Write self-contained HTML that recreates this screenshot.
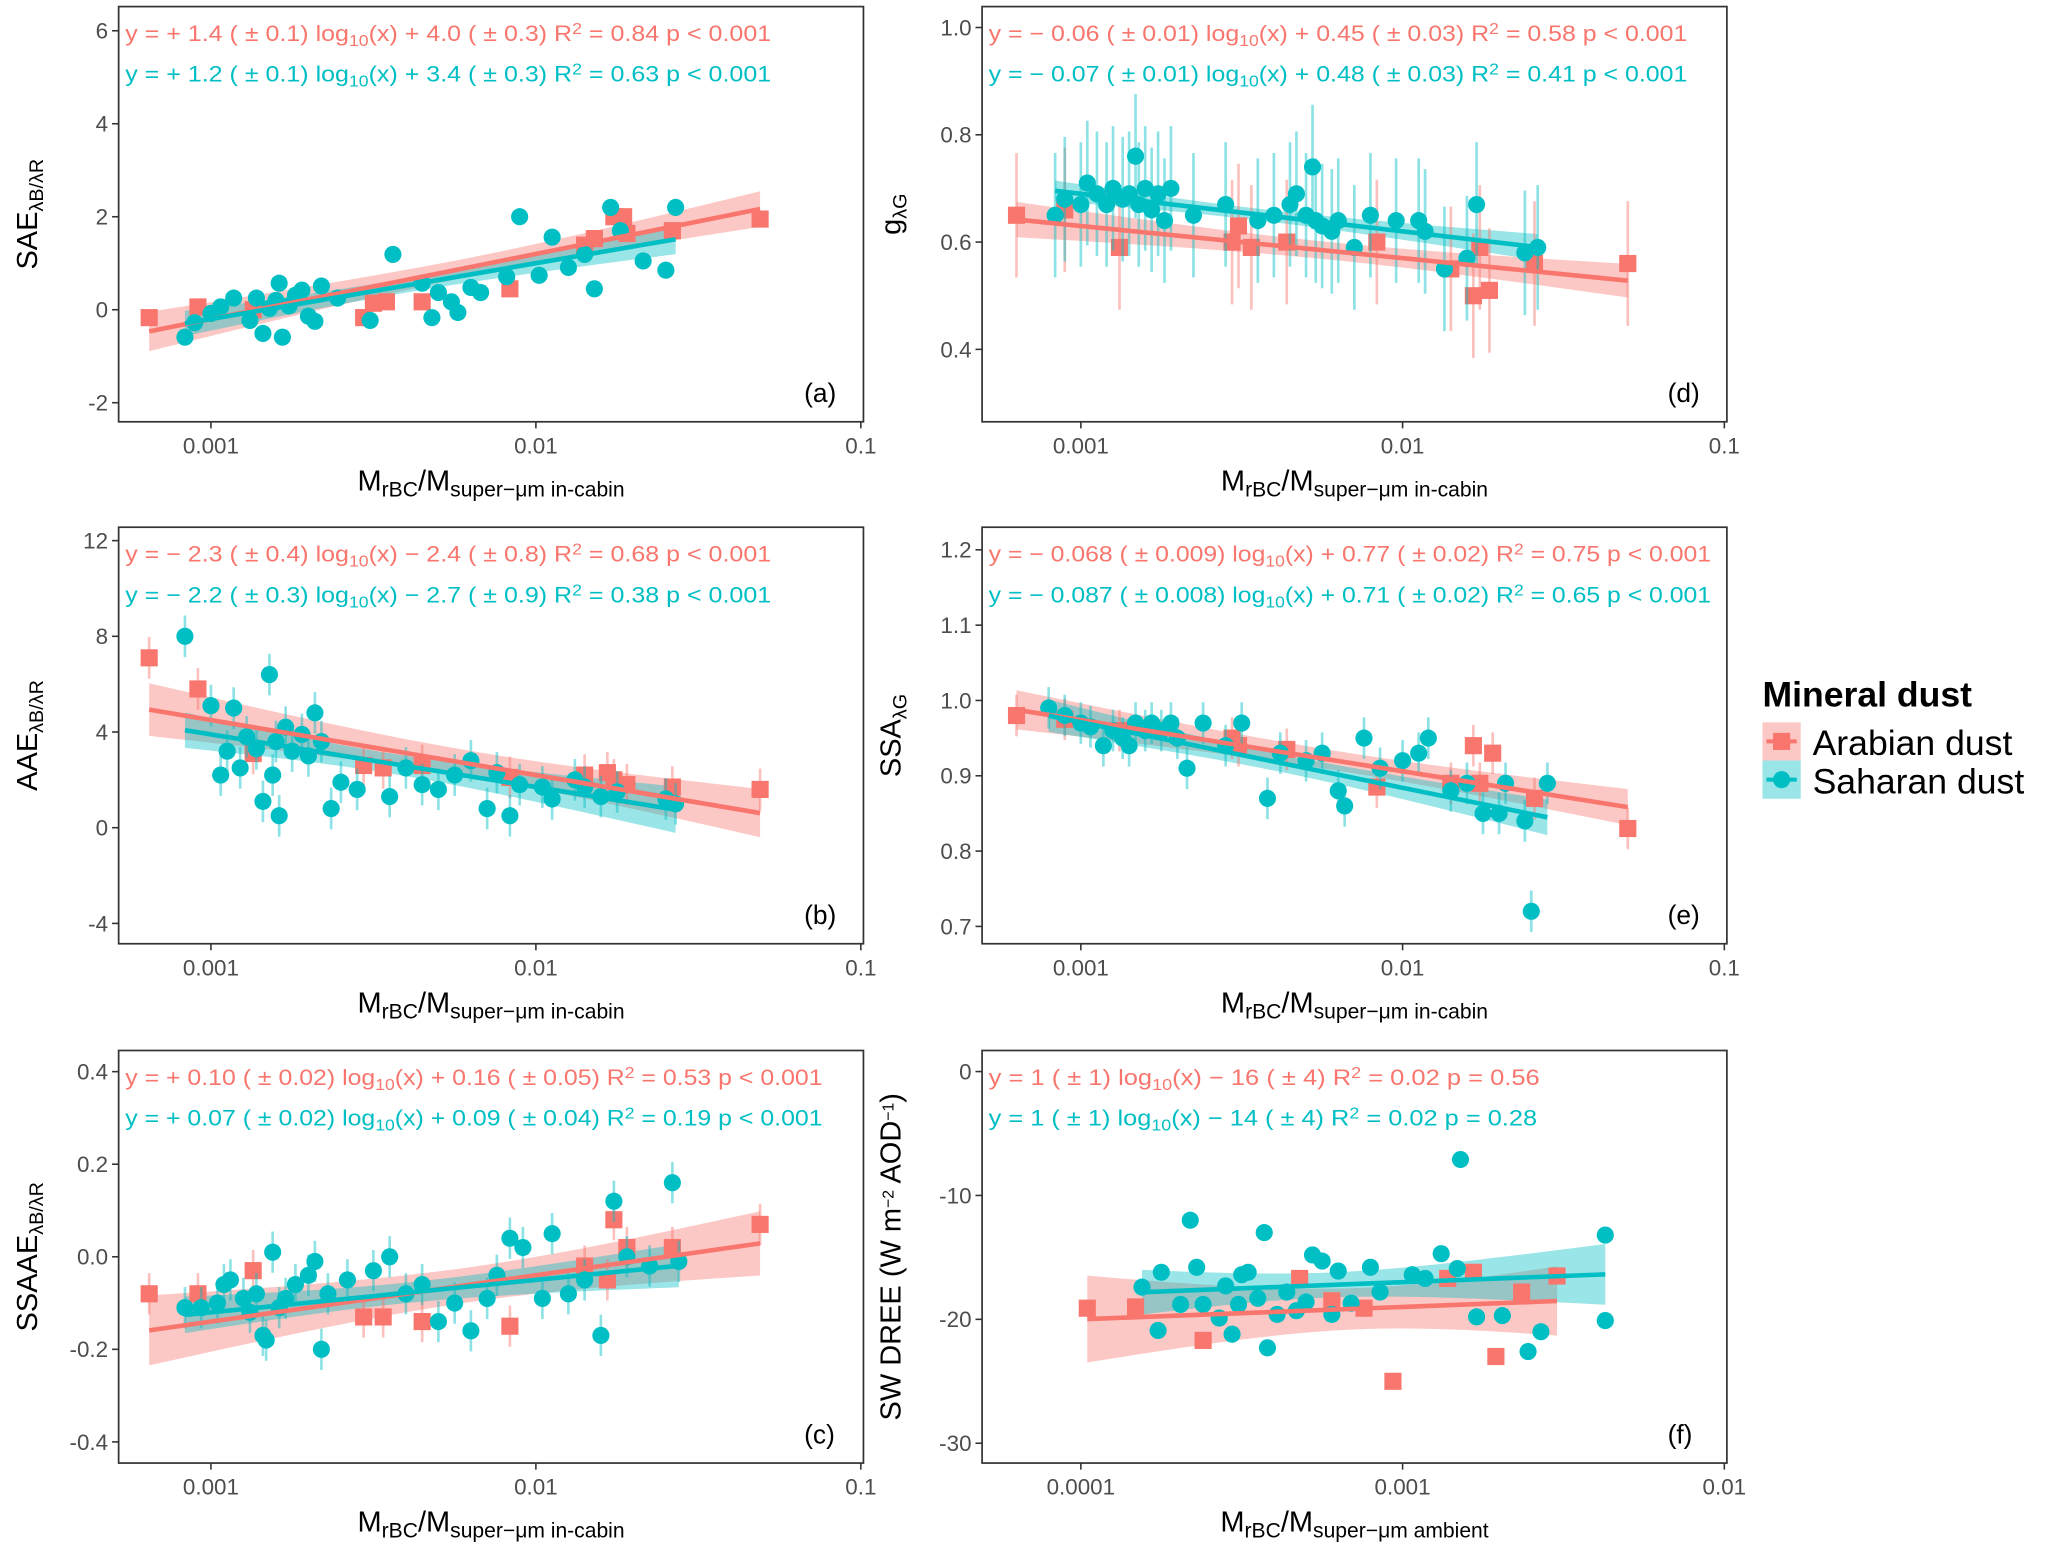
<!DOCTYPE html>
<html><head><meta charset="utf-8"><style>
html,body{margin:0;padding:0;background:#fff}
svg{display:block}
text{font-family:"Liberation Sans",DejaVu Sans,sans-serif}
</style></head><body>
<svg id="chart" width="2067" height="1554" viewBox="0 0 1568 1179" preserveAspectRatio="none" xmlns="http://www.w3.org/2000/svg">
<rect width="1568" height="1179" fill="#fff"/>
<g id="legend">
<text x="1337" y="536" font-size="27" font-weight="bold" fill="#000">Mineral dust</text>
<g>
<rect x="1337" y="548" width="29" height="29" fill="#F8766D" fill-opacity="0.4"/>
<line x1="1340" y1="562.5" x2="1363" y2="562.5" stroke="#F8766D" stroke-width="3"/>
<rect x="1345" y="556" width="13" height="13" fill="#F8766D"/>
<text x="1375" y="573" font-size="27" fill="#000">Arabian dust</text></g>
<g>
<rect x="1337" y="577" width="29" height="29" fill="#00BFC4" fill-opacity="0.4"/>
<line x1="1340" y1="591.5" x2="1363" y2="591.5" stroke="#00BFC4" stroke-width="3"/>
<circle cx="1351.5" cy="591.5" r="6.5" fill="#00BFC4"/>
<text x="1375" y="602" font-size="27" fill="#000">Saharan dust</text></g>
</g>
</svg>
<script>
// ---- data (x stored as log10 of M_rBC/M_super-um ratio) ----
const aAraX=[-3.19,-3.04,-2.87,-2.53,-2.50,-2.46,-2.35,-2.08,-1.85,-1.82,-1.76,-1.73,-1.72,-1.58,-1.31];
const aAraY=[-0.17,0.06,0,-0.17,0.14,0.17,0.17,0.45,1.39,1.53,2.0,2.0,1.64,1.7,1.95];
const aSahX=[-3.08,-3.05,-3.00,-2.97,-2.93,-2.88,-2.86,-2.84,-2.82,-2.80,-2.79,-2.78,-2.76,-2.74,-2.72,-2.70,-2.68,-2.66,-2.61,-2.51,-2.44,-2.35,-2.32,-2.30,-2.26,-2.24,-2.20,-2.17,-2.09,-2.05,-1.99,-1.95,-1.90,-1.85,-1.82,-1.77,-1.74,-1.67,-1.60,-1.57];
const aSahY=[-0.59,-0.28,-0.08,0.06,0.25,-0.23,0.25,-0.51,0.03,0.2,0.57,-0.59,0.08,0.31,0.42,-0.14,-0.25,0.51,0.25,-0.23,1.19,0.57,-0.17,0.37,0.17,-0.06,0.48,0.37,0.71,2.0,0.74,1.56,0.91,1.19,0.45,2.2,1.7,1.05,0.85,2.2];

const dAraX=[-3.2,-3.05,-2.88,-2.53,-2.51,-2.47,-2.36,-2.08,-1.85,-1.78,-1.73,-1.76,-1.59,-1.30];
const dAraY=[0.65,0.66,0.59,0.6,0.63,0.59,0.6,0.6,0.55,0.5,0.51,0.59,0.56,0.56];
const dSahX=[-3.08,-3.05,-3.0,-2.98,-2.95,-2.92,-2.9,-2.87,-2.85,-2.83,-2.82,-2.8,-2.78,-2.76,-2.74,-2.72,-2.65,-2.55,-2.45,-2.4,-2.35,-2.33,-2.3,-2.28,-2.27,-2.25,-2.22,-2.2,-2.15,-2.1,-2.02,-1.95,-1.93,-1.87,-1.8,-1.77,-1.62,-1.58];
const dSahY=[0.65,0.68,0.67,0.71,0.69,0.67,0.7,0.68,0.69,0.76,0.67,0.7,0.66,0.69,0.64,0.7,0.65,0.67,0.64,0.65,0.67,0.69,0.65,0.74,0.64,0.63,0.62,0.64,0.59,0.65,0.64,0.64,0.62,0.55,0.57,0.67,0.58,0.59];

const bAraX=[-3.19,-3.04,-2.87,-2.53,-2.47,-2.35,-2.08,-1.85,-1.78,-1.76,-1.72,-1.58,-1.31];
const bAraY=[7.1,5.8,3.1,2.6,2.5,2.6,2.1,2.2,2.3,2.0,1.8,1.7,1.6];
const bSahX=[-3.08,-3.0,-2.97,-2.95,-2.93,-2.91,-2.89,-2.86,-2.84,-2.82,-2.81,-2.8,-2.79,-2.77,-2.75,-2.72,-2.7,-2.68,-2.66,-2.63,-2.6,-2.55,-2.45,-2.4,-2.35,-2.3,-2.25,-2.2,-2.15,-2.12,-2.08,-2.05,-1.98,-1.95,-1.88,-1.85,-1.8,-1.75,-1.6,-1.57];
const bSahY=[8.0,5.1,2.2,3.2,5.0,2.5,3.8,3.3,1.1,6.4,2.2,3.6,0.5,4.2,3.2,3.9,3.0,4.8,3.6,0.8,1.9,1.6,1.3,2.5,1.8,1.6,2.2,2.8,0.8,2.3,0.5,1.8,1.7,1.2,2.0,1.7,1.3,1.5,1.2,1.0];

const eAraX=[-3.2,-3.05,-2.88,-2.53,-2.51,-2.36,-2.08,-1.85,-1.78,-1.76,-1.72,-1.59,-1.30];
const eAraY=[0.98,0.975,0.96,0.95,0.94,0.935,0.885,0.89,0.94,0.89,0.93,0.87,0.83];
const eSahX=[-3.1,-3.05,-3.0,-2.97,-2.93,-2.9,-2.87,-2.85,-2.83,-2.8,-2.78,-2.75,-2.72,-2.7,-2.67,-2.62,-2.55,-2.5,-2.42,-2.38,-2.3,-2.25,-2.2,-2.18,-2.12,-2.07,-2.0,-1.95,-1.92,-1.85,-1.8,-1.75,-1.7,-1.68,-1.62,-1.6,-1.55];
const eSahY=[0.99,0.98,0.97,0.965,0.94,0.96,0.95,0.94,0.97,0.96,0.97,0.96,0.97,0.95,0.91,0.97,0.94,0.97,0.87,0.93,0.92,0.93,0.88,0.86,0.95,0.91,0.92,0.93,0.95,0.88,0.89,0.85,0.85,0.89,0.84,0.72,0.89];

const cAraX=[-3.19,-3.04,-2.87,-2.53,-2.47,-2.35,-2.08,-1.85,-1.78,-1.76,-1.72,-1.58,-1.31];
const cAraY=[-0.08,-0.08,-0.03,-0.13,-0.13,-0.14,-0.15,-0.02,-0.05,0.08,0.02,0.02,0.07];
const cSahX=[-3.08,-3.03,-2.98,-2.96,-2.94,-2.9,-2.88,-2.86,-2.84,-2.83,-2.81,-2.79,-2.77,-2.74,-2.7,-2.68,-2.66,-2.64,-2.58,-2.5,-2.45,-2.4,-2.35,-2.3,-2.25,-2.2,-2.15,-2.12,-2.08,-2.04,-1.98,-1.95,-1.9,-1.85,-1.8,-1.76,-1.72,-1.65,-1.58,-1.56];
const cSahY=[-0.11,-0.11,-0.1,-0.06,-0.05,-0.09,-0.12,-0.08,-0.17,-0.18,0.01,-0.11,-0.09,-0.06,-0.04,-0.01,-0.2,-0.08,-0.05,-0.03,0.0,-0.08,-0.06,-0.14,-0.1,-0.16,-0.09,-0.04,0.04,0.02,-0.09,0.05,-0.08,-0.05,-0.17,0.12,0.0,-0.02,0.16,-0.01];

const fAraX=[-3.98,-3.83,-3.62,-3.32,-3.03,-3.22,-3.12,-2.86,-2.78,-2.71,-2.63,-2.52];
const fAraY=[-19.1,-19.0,-21.7,-16.7,-25.0,-18.5,-19.1,-16.7,-16.2,-23.0,-17.8,-16.5];
const fSahX=[-3.81,-3.76,-3.75,-3.69,-3.66,-3.64,-3.62,-3.57,-3.55,-3.53,-3.51,-3.50,-3.48,-3.45,-3.43,-3.42,-3.39,-3.36,-3.33,-3.30,-3.28,-3.25,-3.22,-3.20,-3.16,-3.10,-3.07,-2.97,-2.93,-2.88,-2.83,-2.82,-2.77,-2.69,-2.61,-2.57,-2.37,-2.37];
const fSahY=[-17.4,-20.9,-16.2,-18.8,-12.0,-15.8,-18.8,-19.9,-17.3,-21.2,-18.8,-16.4,-16.2,-18.3,-13.0,-22.3,-19.6,-17.8,-19.3,-18.6,-14.8,-15.3,-19.6,-16.1,-18.7,-15.8,-17.8,-16.4,-16.7,-14.7,-15.9,-7.1,-19.8,-19.7,-22.6,-21.0,-13.2,-20.1];

// fit coefficients [slope, intercept] from printed equations
const fitA=[[1.4,4.0],[1.2,3.4]];
const fitD=[[-0.06,0.45],[-0.07,0.48]];
const fitB=[[-2.3,-2.4],[-2.2,-2.7]];
const fitE=[[-0.068,0.77],[-0.087,0.71]];
const fitC=[[0.10,0.16],[0.07,0.09]];
const fitF=[[1,-16],[1,-14]];

const ticksA=[-2,0,2,4,6], ticksD=[0.4,0.6,0.8,1.0], ticksB=[-4,0,4,8,12];
const ticksE=[0.7,0.8,0.9,1.0,1.1,1.2], ticksC=[-0.4,-0.2,0.0,0.2,0.4], ticksF=[-30,-20,-10,0];
const xTicksCabin=[-3,-2,-1], xTickLabCabin=["0.001","0.01","0.1"];
const xTicksAmb=[-4,-3,-2], xTickLabAmb=["0.0001","0.001","0.01"];

const NS="http://www.w3.org/2000/svg";
const svg=document.getElementById('chart');
const RED="#F8766D", CYAN="#00BFC4";
function mk(tag,attrs,parent){const e=document.createElementNS(NS,tag);for(const k in attrs)e.setAttribute(k,attrs[k]);(parent||svg).appendChild(e);return e;}

function eqText(g,x,y,w,col,parts){
  const t=mk('text',{x:x,y:y,'font-size':17,fill:col,textLength:w,lengthAdjust:'spacingAndGlyphs'},g);
  t.innerHTML=parts;
  return t;
}

function panel(cfg){
  const g=mk('g',{});
  
  
  const X=v=>cfg.L+(v-cfg.xd[0])/(cfg.xd[1]-cfg.xd[0])*(cfg.R-cfg.L);
  const Y=v=>cfg.B-(v-cfg.yd[0])/(cfg.yd[1]-cfg.yd[0])*(cfg.B-cfg.T);
  cfg.yt.forEach(v=>{
    const yy=Y(v);
    mk('line',{x1:cfg.L-5,x2:cfg.L,y1:yy,y2:yy,stroke:'#333','stroke-width':1.2},g);
    const t=mk('text',{x:cfg.L-8,y:yy+6,'font-size':17,fill:'#4d4d4d','text-anchor':'end'},g);
    t.textContent=cfg.fmt?cfg.fmt(v):String(v);
    
    
  });
  cfg.xt.forEach((v,i)=>{
    const xx=X(v);
    mk('line',{x1:xx,x2:xx,y1:cfg.B,y2:cfg.B+5,stroke:'#333','stroke-width':1.2},g);
    const t=mk('text',{x:xx,y:cfg.B+24,'font-size':17,fill:'#4d4d4d','text-anchor':'middle'},g);
    t.textContent=cfg.xl[i];
    
    
  });
  const series=[[cfg.ax,cfg.ay,RED,'arabian',cfg.fit[0]],[cfg.sx,cfg.sy,CYAN,'saharan',cfg.fit[1]]];
  series.forEach(([xs,ys,col,nm,f])=>{
    const n=xs.length, m=xs.reduce((a,b)=>a+b,0)/n;
    const sxx=xs.reduce((a,v)=>a+(v-m)*(v-m),0);
    const ss=xs.reduce((a,v,i)=>a+Math.pow(ys[i]-(f[0]*v+f[1]),2),0);
    const s=Math.sqrt(ss/(n-2));
    const lo=Math.min(...xs), hi=Math.max(...xs);
    const up=[],dn=[];
    for(let k=0;k<=40;k++){
      const v=lo+(hi-lo)*k/40;
      const se=2.0*s*Math.sqrt(1/n+(v-m)*(v-m)/sxx);
      const yv=f[0]*v+f[1];
      up.push(X(v)+','+Y(yv+se)); dn.unshift(X(v)+','+Y(yv-se));
    }
    const band=mk('polygon',{points:up.concat(dn).join(' '),fill:col,'fill-opacity':0.4},g);
    
    
  });
  series.forEach(([xs,ys,col,nm])=>{
    xs.forEach((v,i)=>{
      const cx=X(v), cy=Y(ys[i]), eh=(cfg.B-cfg.T)*cfg.err;
      if(eh>0) mk('line',{x1:cx,x2:cx,y1:cy-eh,y2:cy+eh,stroke:col,'stroke-opacity':0.45,'stroke-width':2},g);
      let p;
      if(nm==='arabian') p=mk('rect',{x:cx-6.5,y:cy-6.5,width:13,height:13,fill:col},g);
      else p=mk('circle',{cx:cx,cy:cy,r:6.5,fill:col},g);
      
      
    });
  });
  series.forEach(([xs,ys,col,nm,f])=>{
    const lo=Math.min(...xs), hi=Math.max(...xs);
    const l=mk('line',{x1:X(lo),y1:Y(f[0]*lo+f[1]),x2:X(hi),y2:Y(f[0]*hi+f[1]),stroke:col,'stroke-width':3.5},g);
    
    
  });
  const fr=mk('rect',{x:cfg.L,y:cfg.T,width:cfg.R-cfg.L,height:cfg.B-cfg.T,fill:'none',stroke:'#333','stroke-width':1.3},g);
  
  
  const e1=eqText(g,cfg.L+5,cfg.T+26,cfg.ew[0],RED,cfg.eq[0]);
  
  
  const e2=eqText(g,cfg.L+5,cfg.T+57,cfg.ew[1],CYAN,cfg.eq[1]);
  
  
  const pl=mk('text',{x:cfg.R-45,y:cfg.B-15,'font-size':20,fill:'#000'},g);
  pl.textContent=cfg.letter;
  
  
  const xt=mk('text',{x:(cfg.L+cfg.R)/2,y:cfg.B+52,'font-size':22,fill:'#000','text-anchor':'middle'},g);
  xt.innerHTML=cfg.xtitle;
  
  
  const cyy=(cfg.T+cfg.B)/2;
  const yt=mk('text',{x:0,y:0,'font-size':22,fill:'#000','text-anchor':'middle',transform:'translate('+(cfg.L-62)+','+cyy+') rotate(-90)'},g);
  yt.innerHTML=cfg.ytitle;
  
  
}
const sub=(s,fs)=>'<tspan font-size="'+(fs||12)+'" baseline-shift="-30%">'+s+'</tspan>';
const sup=s=>'<tspan font-size="12" baseline-shift="45%">'+s+'</tspan>';
const cabin='M'+sub('rBC',16)+'/M'+sub('super\u2212\u03bcm in-cabin',16);
const amb='M'+sub('rBC',16)+'/M'+sub('super\u2212\u03bcm ambient',16);
function eq(a,b,r,p){return 'y = '+a+' log'+sub('10')+'(x) '+b+'   R'+sup('2')+' = '+r+'   '+p;}
const dX=[-3.284,-0.992], fX=[-4.307,-1.992];
const lamBR=sub('\u03bbB/\u03bbR',15), lamG=sub('\u03bbG',15);
panel({name:'panel-a',L:90,R:655,T:5,B:320,xd:dX,yd:[-2.41,6.52],yt:ticksA,xt:xTicksCabin,xl:xTickLabCabin,ax:aAraX,ay:aAraY,sx:aSahX,sy:aSahY,fit:fitA,err:0.02,
  eq:[eq('+ 1.4 ( \u00b1 0.1)','+ 4.0 ( \u00b1 0.3)','0.84','p < 0.001'),eq('+ 1.2 ( \u00b1 0.1)','+ 3.4 ( \u00b1 0.3)','0.63','p < 0.001')],ew:[490,490],letter:'(a)',xtitle:cabin,ytitle:'SAE'+lamBR});
panel({name:'panel-d',L:745,R:1310,T:5,B:320,xd:[-3.307,-0.992],yd:[0.265,1.039],yt:ticksD,xt:xTicksCabin,xl:xTickLabCabin,ax:dAraX,ay:dAraY,sx:dSahX,sy:dSahY,fit:fitD,err:0.15,fmt:v=>v.toFixed(1),
  eq:[eq('\u2212 0.06 ( \u00b1 0.01)','+ 0.45 ( \u00b1 0.03)','0.58','p < 0.001'),eq('\u2212 0.07 ( \u00b1 0.01)','+ 0.48 ( \u00b1 0.03)','0.41','p < 0.001')],ew:[530,530],letter:'(d)',xtitle:cabin,ytitle:'g'+lamG});
panel({name:'panel-b',L:90,R:655,T:400,B:716,xd:dX,yd:[-4.85,12.56],yt:ticksB,xt:xTicksCabin,xl:xTickLabCabin,ax:bAraX,ay:bAraY,sx:bSahX,sy:bSahY,fit:fitB,err:0.05,
  eq:[eq('\u2212 2.3 ( \u00b1 0.4)','\u2212 2.4 ( \u00b1 0.8)','0.68','p < 0.001'),eq('\u2212 2.2 ( \u00b1 0.3)','\u2212 2.7 ( \u00b1 0.9)','0.38','p < 0.001')],ew:[490,490],letter:'(b)',xtitle:cabin,ytitle:'AAE'+lamBR});
panel({name:'panel-e',L:745,R:1310,T:400,B:716,xd:[-3.307,-0.992],yd:[0.677,1.23],yt:ticksE,xt:xTicksCabin,xl:xTickLabCabin,ax:eAraX,ay:eAraY,sx:eSahX,sy:eSahY,fit:fitE,err:0.05,fmt:v=>v.toFixed(1),
  eq:[eq('\u2212 0.068 ( \u00b1 0.009)','+ 0.77 ( \u00b1 0.02)','0.75','p < 0.001'),eq('\u2212 0.087 ( \u00b1 0.008)','+ 0.71 ( \u00b1 0.02)','0.65','p < 0.001')],ew:[548,548],letter:'(e)',xtitle:cabin,ytitle:'SSA'+lamG});
panel({name:'panel-c',L:90,R:655,T:797,B:1110,xd:dX,yd:[-0.4457,0.4457],yt:ticksC,xt:xTicksCabin,xl:xTickLabCabin,ax:cAraX,ay:cAraY,sx:cSahX,sy:cSahY,fit:fitC,err:0.05,fmt:v=>v.toFixed(1),
  eq:[eq('+ 0.10 ( \u00b1 0.02)','+ 0.16 ( \u00b1 0.05)','0.53','p < 0.001'),eq('+ 0.07 ( \u00b1 0.02)','+ 0.09 ( \u00b1 0.04)','0.19','p < 0.001')],ew:[529,529],letter:'(c)',xtitle:cabin,ytitle:'SSAAE'+lamBR});
panel({name:'panel-f',L:745,R:1310,T:797,B:1110,xd:fX,yd:[-31.6,1.7],yt:ticksF,xt:xTicksAmb,xl:xTickLabAmb,ax:fAraX,ay:fAraY,sx:fSahX,sy:fSahY,fit:fitF,err:0.0,
  eq:[eq('1 ( \u00b1 1)','\u2212 16 ( \u00b1 4)','0.02','p = 0.56'),eq('1 ( \u00b1 1)','\u2212 14 ( \u00b1 4)','0.02','p = 0.28')],ew:[418,416],letter:'(f)',xtitle:amb,ytitle:'SW DREE (W m'+sup('\u22122')+' AOD'+sup('\u22121')+')'});
</script>
</body></html>
